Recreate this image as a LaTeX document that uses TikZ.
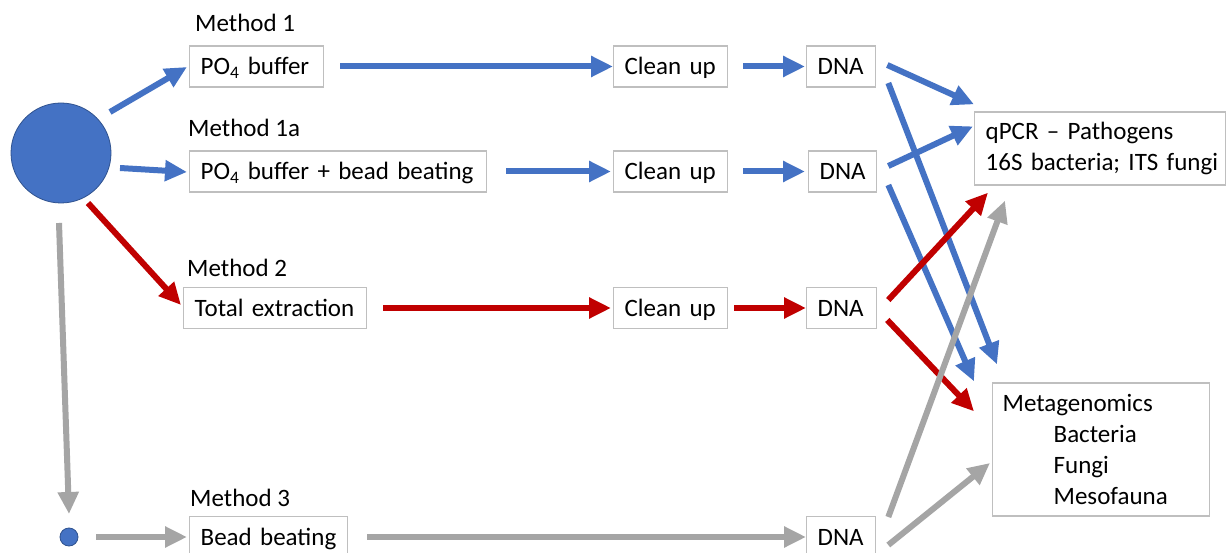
\documentclass[tikz,border=0pt]{standalone}
\usepackage{fontspec}
\setmainfont{Carlito}
\usetikzlibrary{arrows.meta,calc}
\definecolor{cblue}{HTML}{4472C4}
\definecolor{cblueline}{HTML}{2F528F}
\definecolor{cred}{HTML}{C00000}
\definecolor{cgray}{HTML}{A5A5A5}
\definecolor{cbox}{HTML}{BFBFBF}
\newcommand{\boxfont}{\fontsize{25}{31}\selectfont}
\begin{document}
\begin{tikzpicture}[x=1pt,y=-1pt,
  box/.style={draw=cbox,line width=1.3pt,fill=white,inner xsep=11pt,inner ysep=0pt,
    minimum height=41pt,anchor=west,align=left,font=\boxfont},
  onebox/.style={box,text height=20pt,text depth=3pt},
  lbl/.style={anchor=west,inner sep=0pt,font=\boxfont},
  arr/.style={line width=6pt,-{Triangle[length=22pt,width=20pt]}},
  blu/.style={arr,draw=cblue,fill=cblue},
  rd/.style={arr,draw=cred,fill=cred},
  gry/.style={arr,draw=cgray,fill=cgray}]
\useasboundingbox (0,0) rectangle (1226,553);
\fill[white] (0,0) rectangle (1226,553);

% circles
\node[circle,fill=cblue,draw=cblueline,line width=0.8pt,minimum size=100pt,inner sep=0pt] (big) at (61,153) {};
\node[circle,fill=cblue,draw=cblueline,line width=0.8pt,minimum size=18pt,inner sep=0pt] (small) at (69,537) {};

% labels
\node[lbl] (m1) at (195,23) {Method 1};
\node[lbl] (m1a) at (188,128) {Method 1a};
\node[lbl] (m2) at (187,268) {Method 2};
\node[lbl] (m3) at (190,498) {Method 3};

% boxes
\node[onebox,text width=112pt] (po4) at (189,66.5) {\mbox{PO\textsubscript{4} buffer}};
\node[onebox,text width=275pt] (po4bb) at (189,171.5) {\mbox{PO\textsubscript{4} buffer + bead beating}};
\node[onebox,text width=92pt] (clean1) at (613,66.5) {\mbox{Clean up}};
\node[onebox,text width=47pt] (dna1) at (806,66.5) {DNA};
\node[onebox,text width=92pt] (clean1a) at (613,171.5) {\mbox{Clean up}};
\node[onebox,text width=46pt] (dna1a) at (808,171.5) {DNA};
\node[onebox,text width=161pt] (tot) at (183,308) {\mbox{Total extraction}};
\node[onebox,text width=92pt] (clean2) at (613,308) {\mbox{Clean up}};
\node[onebox,text width=48pt] (dna2) at (806,308) {DNA};
\node[onebox,text width=136pt] (bead) at (189,537) {\mbox{Bead beating}};
\node[onebox,text width=47pt] (dna3) at (806,537) {DNA};
\node[box,text width=229pt,minimum height=73pt] (qpcr) at (974,148.5)
  {\mbox{qPCR -- Pathogens}\\\mbox{16S bacteria; ITS fungi}};
\node[box,text width=197pt,inner xsep=10pt,minimum height=133pt] (meta) at (992,449.5)
  {Metagenomics\\\hspace*{51pt}Bacteria\\\hspace*{51pt}Fungi\\\hspace*{51pt}Mesofauna};

% blue arrows
\draw[blu] ([shift={(49,-41)}]big.center) -- ([shift={(-2,0.5)}]po4.west);
\draw[blu] ([shift={(59,15)}]big.center) -- ([shift={(-2,0.5)}]po4bb.west);
\draw[blu] ([shift={(16,0)}]po4.east) -- (clean1.west);
\draw[blu] ([shift={(15,0)}]clean1.east) -- ([shift={(-1,0)}]dna1.west);
\draw[blu] ([shift={(19,0)}]po4bb.east) -- ([shift={(-2,0)}]clean1a.west);
\draw[blu] ([shift={(15,0)}]clean1a.east) -- ([shift={(-3,0)}]dna1a.west);
\draw[blu] ([shift={(11,-1.5)}]dna1.east) -- ([shift={(0,-7)}]qpcr.north west);
\draw[blu] ([shift={(12,16.5)}]dna1.east) -- ([shift={(5,-18)}]meta.north west);
\draw[blu] ([shift={(11,-5.5)}]dna1a.east) -- ([shift={(-1,15)}]qpcr.north west);
\draw[blu] ([shift={(11,13.5)}]dna1a.east) -- ([shift={(-18,-1)}]meta.north west);

% red arrows
\draw[rd] ([shift={(27,50)}]big.center) -- ([shift={(-2,-3)}]tot.west);
\draw[rd] ([shift={(16,0)}]tot.east) -- ([shift={(-2,0)}]clean2.west);
\draw[rd] ([shift={(6,0)}]clean2.east) -- (dna2.west);
\draw[rd] ([shift={(11,-8)}]dna2.east) -- ([shift={(14,7)}]qpcr.south west);
\draw[rd] ([shift={(10,12)}]dna2.east) -- ([shift={(-18,29)}]meta.north west);

% gray arrows
\draw[gry] ([shift={(-2,70)}]big.center) -- ([shift={(0,-23)}]small.center);
\draw[gry] ([shift={(27,0)}]small.center) -- ([shift={(-2,0)}]bead.west);
\draw[gry] ([shift={(19,0)}]bead.east) -- (dna3.west);
\draw[gry] ([shift={(12,-20)}]dna3.east) -- ([shift={(31,15)}]qpcr.south west);
\draw[gry] ([shift={(12,8)}]dna3.east) -- ([shift={(-2,13.5)}]meta.west);
\end{tikzpicture}
\end{document}
